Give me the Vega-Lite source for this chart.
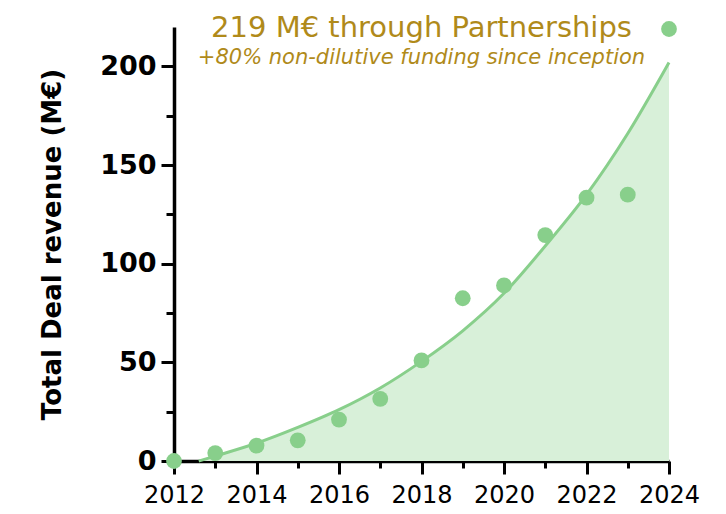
{
  "$schema": "https://vega.github.io/schema/vega-lite/v6.json",
  "width": 495,
  "height": 434,
  "autosize": {"type": "none"},
  "padding": {"left": 174, "top": 27, "right": 57, "bottom": 53},
  "background": "white",
  "config": {"view": {"stroke": null}, "font": "DejaVu Sans"},
  "title": {
    "text": "219 M€ through Partnerships",
    "subtitle": "+80% non-dilutive funding since inception",
    "anchor": "middle",
    "frame": "group",
    "offset": -47,
    "font": "DejaVu Sans",
    "fontSize": 29,
    "fontWeight": "normal",
    "color": "#b08a1a",
    "subtitleFont": "DejaVu Sans",
    "subtitleFontSize": 21,
    "subtitleFontStyle": "italic",
    "subtitleColor": "#b08a1a",
    "subtitlePadding": 4
  },
  "datasets": {
    "points": [
      {"year": 2012, "revenue": 0},
      {"year": 2013, "revenue": 4},
      {"year": 2014, "revenue": 7.8},
      {"year": 2015, "revenue": 10.5},
      {"year": 2016, "revenue": 21},
      {"year": 2017, "revenue": 31.5},
      {"year": 2018, "revenue": 51},
      {"year": 2019, "revenue": 82.5},
      {"year": 2020, "revenue": 89},
      {"year": 2021, "revenue": 114.5},
      {"year": 2022, "revenue": 133.5},
      {"year": 2023, "revenue": 135},
      {"year": 2024, "revenue": 219}
    ],
    "curve": [
      {"year": 2012.6, "fit": 0},
      {"year": 2013, "fit": 2.5},
      {"year": 2014, "fit": 9},
      {"year": 2015, "fit": 17},
      {"year": 2016, "fit": 26},
      {"year": 2017, "fit": 37},
      {"year": 2018, "fit": 50.5},
      {"year": 2019, "fit": 66},
      {"year": 2020, "fit": 85},
      {"year": 2021, "fit": 109},
      {"year": 2022, "fit": 135},
      {"year": 2023, "fit": 166},
      {"year": 2024, "fit": 202}
    ]
  },
  "encoding": {
    "x": {
      "field": "year",
      "type": "quantitative",
      "scale": {"domain": [2012, 2024], "nice": false, "zero": false},
      "axis": {
        "values": [2012, 2013, 2014, 2015, 2016, 2017, 2018, 2019, 2020, 2021, 2022, 2023, 2024],
        "format": "d",
        "labelExpr": "datum.value % 2 === 0 ? datum.label : ''",
        "title": null,
        "grid": false,
        "domainColor": "black",
        "domainWidth": 3.5,
        "tickColor": "black",
        "tickWidth": 3,
        "tickSize": {"condition": {"test": "datum.value % 2 === 0", "value": 13}, "value": 7},
        "labelFont": "DejaVu Sans",
        "labelFontSize": 24,
        "labelColor": "black",
        "labelPadding": 9,
        "labelFlush": false,
        "labelOverlap": false
      }
    }
  },
  "layer": [
    {
      "data": {"name": "curve"},
      "mark": {"type": "area", "interpolate": "monotone", "color": "#d8f0d9", "opacity": 1},
      "encoding": {
        "y": {
          "field": "fit",
          "type": "quantitative",
          "scale": {"domain": [0, 220], "nice": false},
          "axis": {
            "values": [0, 25, 50, 75, 100, 125, 150, 175, 200],
            "labelExpr": "datum.value % 50 === 0 ? datum.label : ''",
            "grid": false,
            "domainColor": "black",
            "domainWidth": 3.5,
            "tickColor": "black",
            "tickWidth": 3,
            "tickSize": {"condition": {"test": "datum.value % 50 === 0", "value": 13}, "value": 8},
            "labelFont": "DejaVu Sans",
            "labelFontSize": 27,
            "labelFontWeight": "bold",
            "labelColor": "black",
            "labelPadding": 5,
            "labelOverlap": false,
            "title": "Total Deal revenue (M€)",
            "titleFont": "DejaVu Sans",
            "titleFontSize": 26,
            "titleFontWeight": "bold",
            "titleColor": "black",
            "titlePadding": 34
          }
        }
      }
    },
    {
      "data": {"name": "curve"},
      "mark": {"type": "line", "interpolate": "monotone", "color": "#88cf8b", "strokeWidth": 3},
      "encoding": {
        "y": {
          "field": "fit",
          "type": "quantitative",
          "scale": {"domain": [0, 220], "nice": false},
          "axis": {
            "values": [0, 25, 50, 75, 100, 125, 150, 175, 200],
            "labelExpr": "datum.value % 50 === 0 ? datum.label : ''",
            "grid": false,
            "domainColor": "black",
            "domainWidth": 3.5,
            "tickColor": "black",
            "tickWidth": 3,
            "tickSize": {"condition": {"test": "datum.value % 50 === 0", "value": 13}, "value": 8},
            "labelFont": "DejaVu Sans",
            "labelFontSize": 27,
            "labelFontWeight": "bold",
            "labelColor": "black",
            "labelPadding": 5,
            "labelOverlap": false,
            "title": "Total Deal revenue (M€)",
            "titleFont": "DejaVu Sans",
            "titleFontSize": 26,
            "titleFontWeight": "bold",
            "titleColor": "black",
            "titlePadding": 34
          }
        }
      }
    },
    {
      "data": {"name": "points"},
      "mark": {"type": "point", "filled": true, "size": 250, "color": "#88cf8b", "opacity": 1, "clip": false},
      "encoding": {
        "y": {
          "field": "revenue",
          "type": "quantitative",
          "scale": {"domain": [0, 220], "nice": false},
          "axis": {
            "values": [0, 25, 50, 75, 100, 125, 150, 175, 200],
            "labelExpr": "datum.value % 50 === 0 ? datum.label : ''",
            "grid": false,
            "domainColor": "black",
            "domainWidth": 3.5,
            "tickColor": "black",
            "tickWidth": 3,
            "tickSize": {"condition": {"test": "datum.value % 50 === 0", "value": 13}, "value": 8},
            "labelFont": "DejaVu Sans",
            "labelFontSize": 27,
            "labelFontWeight": "bold",
            "labelColor": "black",
            "labelPadding": 5,
            "labelOverlap": false,
            "title": "Total Deal revenue (M€)",
            "titleFont": "DejaVu Sans",
            "titleFontSize": 26,
            "titleFontWeight": "bold",
            "titleColor": "black",
            "titlePadding": 34
          }
        }
      }
    }
  ]
}
